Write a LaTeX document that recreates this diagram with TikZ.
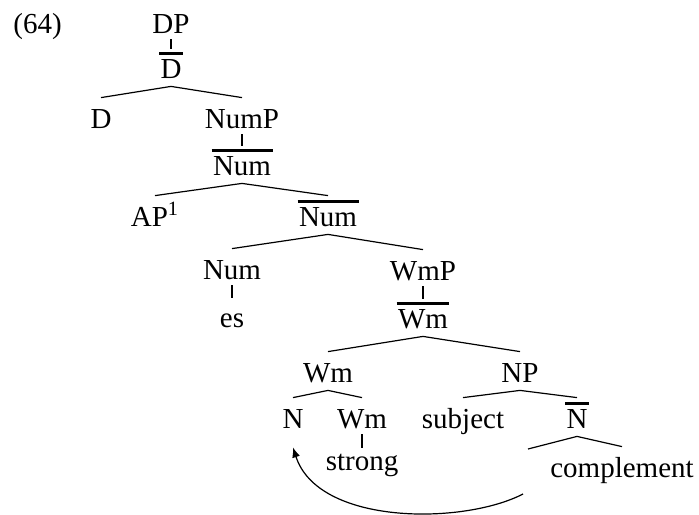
\documentclass[tikz,border=0pt]{standalone}
\usepackage{fontspec}
\setmainfont{Liberation Serif}
\usetikzlibrary{arrows.meta}
\newcommand\barlbl[1]{\setbox0=\hbox{#1}\vbox{\hrule height 1.4pt width \dimexpr\wd0+1.5pt\relax\kern 2.2pt\hbox to \dimexpr\wd0+1.5pt\relax{\hss\box0\hss}}}
\tikzset{
  cat/.style={anchor=base, inner xsep=0pt, inner ysep=4pt, text height=11pt, text depth=0pt, font=\fontsize{14.5}{17}\selectfont},
  br/.style={line width=0.6pt},
  un/.style={line width=1.4pt, shorten <=-1pt, shorten >=-0.5pt},
  mv/.style={-{Latex[length=5pt,width=4pt]}, line width=0.6pt},
}
\begin{document}
\begin{tikzpicture}[x=0.5pt, y=-0.5pt]
\useasboundingbox (0,0) rectangle (699,514);
\node[cat, anchor=base west] (ex) at (13,33) {(64)};
\node[cat] (dp) at (171,33) {DP};
\node[cat] (dbar) at (171,78) {\barlbl{D}};
\node[cat] (d) at (101,128) {D};
\node[cat] (nump) at (242,128) {NumP};
\node[cat] (numbar) at (242,175) {\barlbl{Num}};
\node[cat] (ap) at (155,226) {AP\textsuperscript{1}};
\node[cat] (numbarb) at (328,226) {\barlbl{Num}};
\node[cat] (num) at (232,279) {Num};
\node[cat] (es) at (232,327) {es};
\node[cat] (wmp) at (423,280) {WmP};
\node[cat] (wmbar) at (423,328) {\barlbl{Wm}};
\node[cat] (wm) at (328,382) {Wm};
\node[cat] (np) at (520,382) {NP};
\node[cat] (n) at (293,428) {N};
\node[cat] (wmb) at (362,428) {Wm};
\node[cat] (subj) at (463,428) {subject};
\node[cat] (nbar) at (577,428) {\barlbl{N}};
\node[cat, text height=7.5pt] (strong) at (362,470) {strong};
\node[cat] (compl) at (622,477) {complement};
\coordinate (tr) at (528,449);
\coordinate (mvsrc) at (523,494);
\draw[un] (dp.south) -- (dbar.north);
\draw[br] (dbar.south) -- (d.north);
\draw[br] (dbar.south) -- (nump.north);
\draw[un] (nump.south) -- (numbar.north);
\draw[br] (numbar.south) -- (ap.north);
\draw[br] (numbar.south) -- (numbarb.north);
\draw[br] (numbarb.south) -- (num.north);
\draw[br] (numbarb.south) -- (wmp.north);
\draw[un] (num.south) -- (es.north);
\draw[un] (wmp.south) -- (wmbar.north);
\draw[br] (wmbar.south) -- (wm.north);
\draw[br] (wmbar.south) -- (np.north);
\draw[br] (wm.south) -- (n.north);
\draw[br] (wm.south) -- (wmb.north);
\draw[un] (wmb.south) -- (strong.north);
\draw[br] (np.south) -- (subj.north);
\draw[br] (np.south) -- (nbar.north);
\draw[br] (nbar.south) -- (tr);
\draw[br] (nbar.south) -- (compl.north);
\draw[mv] (mvsrc) .. controls +(-60,31) and +(25,78) .. ([yshift=-5.5pt]n.south);
\end{tikzpicture}
\end{document}
